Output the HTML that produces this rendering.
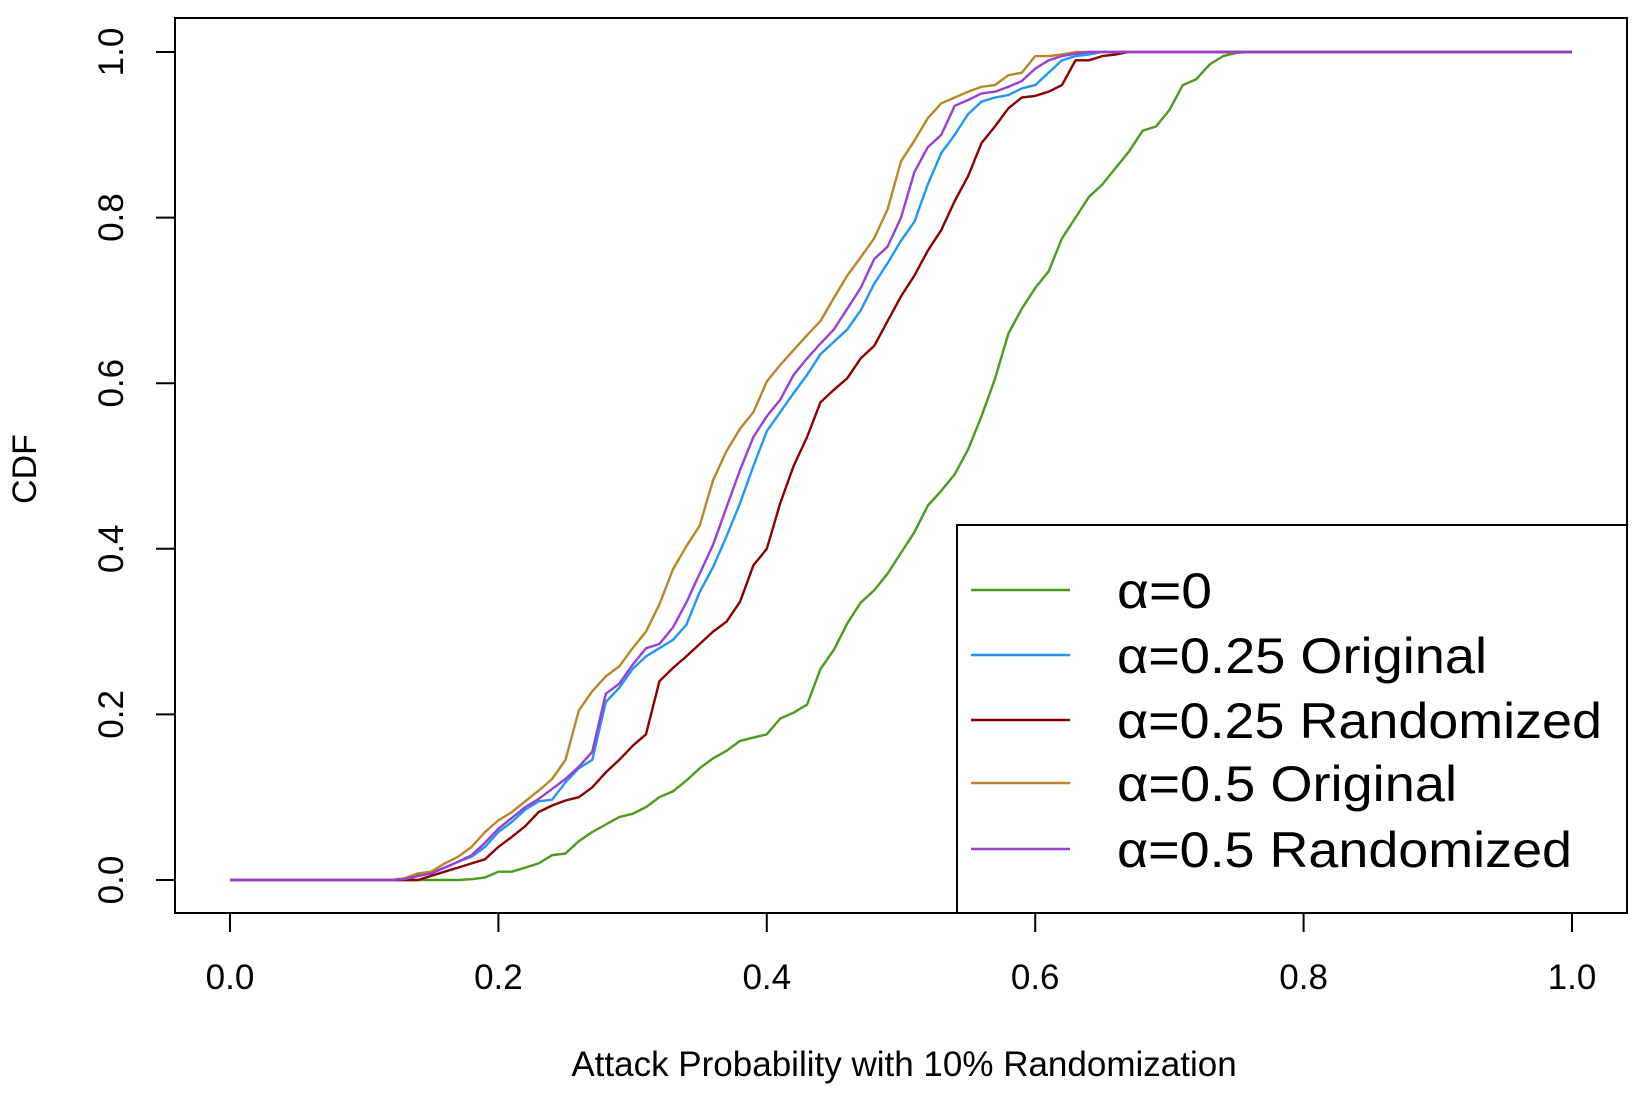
<!DOCTYPE html>
<html><head><meta charset="utf-8"><style>
html,body{margin:0;padding:0;background:#fff;}
svg text{font-family:"Liberation Sans",sans-serif;fill:#000;}
</style></head><body>
<svg id="chart" width="1644" height="1092" viewBox="0 0 1644 1092" xmlns="http://www.w3.org/2000/svg">
<rect x="175" y="18" width="1452" height="895" fill="none" stroke="#000" stroke-width="2"/>
<g id="series"></g>
<g id="axes"></g>
<text x="904" y="1076" font-size="35" text-anchor="middle">Attack Probability with 10% Randomization</text>
<text transform="translate(36,469) rotate(-90)" font-size="34" text-anchor="middle">CDF</text>
<g id="legend">
<rect x="957" y="525" width="670" height="388" fill="#fff" stroke="#000" stroke-width="2"/>
</g>
</svg>
<script>
const xTicks = [0, 0.2, 0.4, 0.6, 0.8, 1.0];
const xTickLabels = ["0.0","0.2","0.4","0.6","0.8","1.0"];
const yTicks = [0, 0.2, 0.4, 0.6, 0.8, 1.0];
const yTickLabels = ["0.0","0.2","0.4","0.6","0.8","1.0"];
const seriesNames = ["α=0","α=0.25 Original","α=0.25 Randomized","α=0.5 Original","α=0.5 Randomized"];
const seriesColors = ["#4c9a1e","#2196f3","#8b0000","#b8862b","#9a3fd0"];

const x0 = [0,0.17,0.18,0.19,0.20,0.21,0.22,0.23,0.24,0.25,0.26,0.27,0.28,0.29,0.30,0.31,0.32,0.33,0.34,0.35,0.36,0.37,0.38,0.39,0.40,0.41,0.42,0.43,0.44,0.45,0.46,0.47,0.48,0.49,0.50,0.51,0.52,0.53,0.54,0.55,0.56,0.57,0.58,0.59,0.60,0.61,0.62,0.63,0.64,0.65,0.66,0.67,0.68,0.69,0.70,0.71,0.72,0.73,0.74,0.75,0.76,1.0];
const y0 = [0,0,0.001,0.003,0.01,0.01,0.015,0.02,0.03,0.032,0.047,0.058,0.067,0.076,0.08,0.088,0.1,0.107,0.12,0.135,0.147,0.156,0.168,0.172,0.176,0.195,0.202,0.212,0.255,0.278,0.31,0.335,0.35,0.37,0.395,0.42,0.452,0.47,0.49,0.52,0.56,0.605,0.66,0.69,0.715,0.735,0.775,0.80,0.825,0.84,0.86,0.88,0.905,0.91,0.93,0.96,0.967,0.985,0.995,0.999,1,1];

const x1 = [0,0.13,0.14,0.15,0.16,0.17,0.18,0.19,0.20,0.21,0.22,0.23,0.24,0.25,0.26,0.27,0.28,0.29,0.30,0.31,0.32,0.33,0.34,0.35,0.36,0.37,0.38,0.39,0.40,0.41,0.42,0.43,0.44,0.45,0.46,0.47,0.48,0.49,0.50,0.51,0.52,0.53,0.54,0.55,0.56,0.57,0.58,0.59,0.60,0.61,0.62,0.63,0.64,0.65,1.0];
const y1 = [0,0,0.005,0.008,0.015,0.022,0.028,0.04,0.058,0.07,0.085,0.095,0.097,0.118,0.135,0.145,0.215,0.232,0.255,0.27,0.28,0.29,0.308,0.348,0.378,0.415,0.455,0.5,0.542,0.565,0.588,0.61,0.635,0.65,0.665,0.688,0.72,0.745,0.772,0.795,0.84,0.878,0.9,0.925,0.94,0.945,0.948,0.956,0.96,0.975,0.99,0.995,0.997,1,1];

const x2 = [0,0.14,0.15,0.16,0.17,0.18,0.19,0.20,0.21,0.22,0.23,0.24,0.25,0.26,0.27,0.28,0.29,0.30,0.31,0.32,0.33,0.34,0.35,0.36,0.37,0.38,0.39,0.40,0.41,0.42,0.43,0.44,0.45,0.46,0.47,0.48,0.49,0.50,0.51,0.52,0.53,0.54,0.55,0.56,0.57,0.58,0.59,0.60,0.61,0.62,0.63,0.64,0.65,0.66,0.67,1.0];
const y2 = [0,0,0.005,0.01,0.015,0.02,0.025,0.04,0.052,0.065,0.082,0.09,0.096,0.1,0.112,0.13,0.145,0.162,0.176,0.24,0.256,0.27,0.285,0.3,0.312,0.336,0.38,0.4,0.455,0.5,0.535,0.577,0.592,0.606,0.63,0.645,0.675,0.705,0.73,0.76,0.785,0.82,0.85,0.89,0.91,0.932,0.945,0.947,0.952,0.96,0.99,0.99,0.995,0.997,1,1];

const x3 = [0,0.12,0.13,0.14,0.15,0.16,0.17,0.18,0.19,0.20,0.21,0.22,0.23,0.24,0.25,0.26,0.27,0.28,0.29,0.30,0.31,0.32,0.33,0.34,0.35,0.36,0.37,0.38,0.39,0.40,0.41,0.42,0.43,0.44,0.45,0.46,0.47,0.48,0.49,0.50,0.51,0.52,0.53,0.54,0.55,0.56,0.57,0.58,0.59,0.60,0.61,0.62,0.63,1.0];
const y3 = [0,0,0.002,0.008,0.01,0.02,0.028,0.04,0.058,0.072,0.082,0.095,0.108,0.122,0.145,0.205,0.228,0.246,0.258,0.28,0.3,0.333,0.375,0.403,0.428,0.483,0.518,0.545,0.565,0.602,0.622,0.64,0.658,0.675,0.703,0.73,0.752,0.775,0.81,0.868,0.893,0.92,0.938,0.945,0.952,0.958,0.96,0.972,0.975,0.995,0.995,0.997,1,1];

const x4 = [0,0.12,0.13,0.14,0.15,0.16,0.17,0.18,0.19,0.20,0.21,0.22,0.23,0.24,0.25,0.26,0.27,0.28,0.29,0.30,0.31,0.32,0.33,0.34,0.35,0.36,0.37,0.38,0.39,0.40,0.41,0.42,0.43,0.44,0.45,0.46,0.47,0.48,0.49,0.50,0.51,0.52,0.53,0.54,0.55,0.56,0.57,0.58,0.59,0.60,0.61,0.62,0.63,0.64,1.0];
const y4 = [0,0,0.001,0.005,0.008,0.015,0.022,0.03,0.045,0.062,0.075,0.088,0.098,0.11,0.122,0.137,0.155,0.225,0.237,0.26,0.28,0.285,0.305,0.335,0.37,0.405,0.45,0.495,0.535,0.56,0.58,0.61,0.63,0.648,0.665,0.69,0.715,0.75,0.765,0.8,0.855,0.885,0.9,0.935,0.942,0.95,0.952,0.958,0.965,0.98,0.99,0.995,0.998,1,1];

const seriesX = [x0,x1,x2,x3,x4];
const seriesY = [y0,y1,y2,y3,y4];

const NS = "http://www.w3.org/2000/svg";
const X0 = 230, X1 = 1572, Y0 = 880, Y1 = 52;
function sx(v){ return X0 + v*(X1-X0); }
function sy(v){ return Y0 - v*(Y0-Y1); }

const axes = document.getElementById('axes');
xTicks.forEach((t,i)=>{
  const l = document.createElementNS(NS,'line');
  
  
  l.setAttribute('x1',sx(t)); l.setAttribute('x2',sx(t));
  l.setAttribute('y1',913); l.setAttribute('y2',932);
  l.setAttribute('stroke','#000'); l.setAttribute('stroke-width','2');
  axes.appendChild(l);
  const tx = document.createElementNS(NS,'text');
  
  
  tx.setAttribute('x',sx(t)); tx.setAttribute('y',989);
  tx.setAttribute('font-size','35'); tx.setAttribute('text-anchor','middle');
  tx.textContent = xTickLabels[i];
  axes.appendChild(tx);
});
yTicks.forEach((t,i)=>{
  const l = document.createElementNS(NS,'line');
  
  
  l.setAttribute('x1',156); l.setAttribute('x2',175);
  l.setAttribute('y1',sy(t)); l.setAttribute('y2',sy(t));
  l.setAttribute('stroke','#000'); l.setAttribute('stroke-width','2');
  axes.appendChild(l);
  const tx = document.createElementNS(NS,'text');
  
  
  tx.setAttribute('transform','translate(123,'+sy(t)+') rotate(-90)');
  tx.setAttribute('font-size','35'); tx.setAttribute('text-anchor','middle');
  tx.textContent = yTickLabels[i];
  axes.appendChild(tx);
});

const sg = document.getElementById('series');
seriesX.forEach((xs,k)=>{
  const ys = seriesY[k];
  const p = document.createElementNS(NS,'polyline');
  
  
  p.setAttribute('points', xs.map((x,i)=>sx(x).toFixed(1)+','+sy(ys[i]).toFixed(1)).join(' '));
  p.setAttribute('fill','none');
  p.setAttribute('stroke',seriesColors[k]);
  p.setAttribute('stroke-width','2.4');
  p.setAttribute('stroke-linejoin','round');
  sg.appendChild(p);
});

const lg = document.getElementById('legend');
const legY = [590, 655, 720, 783, 849];
seriesNames.forEach((n,k)=>{
  const l = document.createElementNS(NS,'line');
  
  
  l.setAttribute('x1',971); l.setAttribute('x2',1070);
  l.setAttribute('y1',legY[k]); l.setAttribute('y2',legY[k]);
  l.setAttribute('stroke',seriesColors[k]); l.setAttribute('stroke-width','2.4');
  lg.appendChild(l);
  const tx = document.createElementNS(NS,'text');
  
  
  tx.setAttribute('x',1117); tx.setAttribute('y',legY[k]+18);
  tx.setAttribute('font-size','50');
  tx.setAttribute('textLength', [95,370,485,340,455][k]);
  tx.setAttribute('lengthAdjust','spacingAndGlyphs');
  tx.textContent = n;
  lg.appendChild(tx);
});
</script>
</body></html>
